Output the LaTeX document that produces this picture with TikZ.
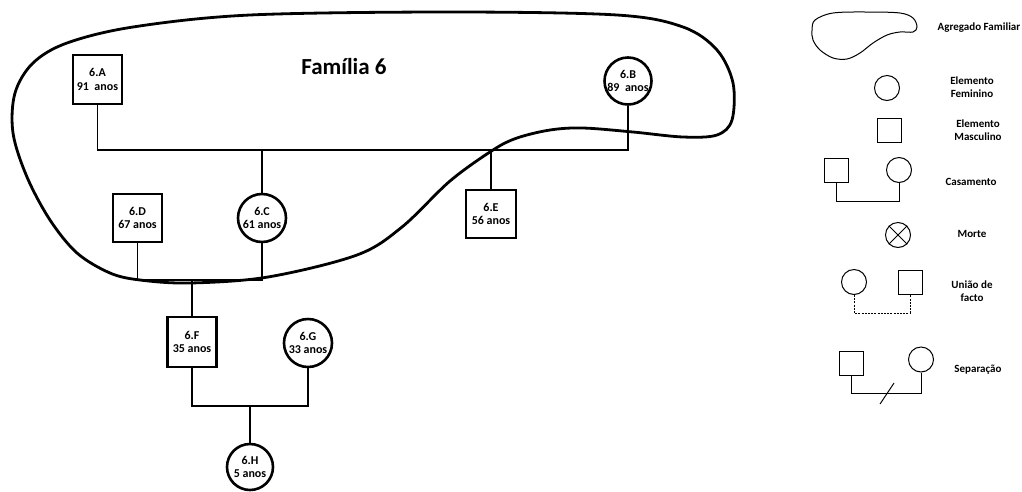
\documentclass[tikz,border=0pt]{standalone}
\usepackage{fontspec}
\setmainfont{Carlito}
\begin{document}
\begin{tikzpicture}[x=1pt,y=-1pt,
  nodetext/.style={font=\fontsize{12}{13.5}\selectfont\bfseries, align=center, inner sep=0pt},
  male/.style={nodetext, draw, line width=2.6pt, minimum width=49pt, minimum height=49pt},
  female/.style={nodetext, draw, circle, line width=2.6pt, minimum size=48pt},
  conn/.style={line width=1.3pt},
  blob/.style={line width=2.8pt},
  legtext/.style={font=\fontsize{11}{13.5}\selectfont\bfseries, align=center, inner sep=0pt},
  lmale/.style={draw, line width=1pt, minimum size=24pt, inner sep=0pt},
  lfemale/.style={draw, circle, line width=1pt, minimum size=25pt, inner sep=0pt},
  lline/.style={line width=1pt}
]
\useasboundingbox (0,0) rectangle (1022,491);

% family blob
\draw[blob] plot[smooth cycle, tension=0.55] coordinates {
 (250,15) (450,12) (617,15) (683,27) (717,50) (733,83) (732,120) (717,135)
 (683,137) (633,132) (583,128) (550,130) (517,138) (493,150) (450,181)
 (402,227) (357,255) (268,277) (190,283) (140,280) (110,273) (77,253)
 (50,220) (27,177) (13,133) (15,93) (33,63) (67,43) (133,27)};

\node[font=\fontsize{23}{26}\selectfont\bfseries] (title) at (344,67) {Família 6};

% persons
\node[male] (A) at (97.5,79.5) {6.A\\91\ \ anos};
\node[female, minimum size=47pt] (B) at (628,81) {6.B\\89\ \ anos};
\node[female] (C) at (262,218) {6.C\\61 anos};
\node[male, minimum height=48pt] (D) at (137.5,218) {6.D\\67 anos};
\node[male, minimum width=50pt, minimum height=48pt] (E) at (491,214) {6.E\\56 anos};
\node[male, minimum height=50pt] (F) at (192,342) {6.F\\35 anos};
\node[female] (G) at (308,343) {6.G\\33 anos};
\node[female, minimum size=46pt] (H) at (250,467) {6.H\\5 anos};

% connectors
\coordinate (abC) at (262,150);
\coordinate (abE) at (491,150);
\coordinate (dc) at (192,280);
\coordinate (fg) at (250,406);
\draw[conn] (A.south) -- (A.south |- abC) -| (B.south);
\draw[conn] (abC) -- (C.north);
\draw[conn] (abE) -- (E.north);
\draw[conn] (D.south) -- (D.south |- dc) -| (C.south);
\draw[conn] (dc) -- (F.north);
\draw[conn] (F.south) -- (F.south |- fg) -| (G.south);
\draw[conn] (fg) -- (H.north);

% legend
\draw[lline] plot[smooth cycle, tension=0.55] coordinates {
 (833,13) (867,12) (900,13) (913,18) (917,27) (913,32) (900,32) (887,35)
 (873,43) (860,53) (847,59) (833,58) (820,50) (813,40) (812,30) (815,20)};
\node[legtext] (lt1) at (979,28) {Agregado Familiar};

\node[lfemale] (lf) at (887,88) {};
\node[legtext] (lt2) at (972,87) {Elemento\\Feminino};

\node[lmale] (lm) at (889,130) {};
\node[legtext] (lt3) at (978,130) {Elemento\\Masculino};

\node[lmale] (cm) at (836,170.5) {};
\node[lfemale] (cf) at (899,170) {};
\coordinate (cy) at (0,201);
\draw[lline] (cm.south) -- (cm.south |- cy) -| (cf.south);
\node[legtext] (lt4) at (971,182) {Casamento};

\node[lfemale] (mo) at (898,235) {};
\draw[lline] (mo.north west) -- (mo.south east);
\draw[lline] (mo.north east) -- (mo.south west);
\node[legtext] (lt5) at (972,234) {Morte};

\node[lfemale] (uf) at (854,282) {};
\node[lmale] (um) at (910,282) {};
\coordinate (uy) at (0,313);
\draw[lline, dash pattern=on 2pt off 1.2pt] (uf.south) -- (uf.south |- uy) -| (um.south);
\node[legtext] (lt6) at (972,291) {União de\\facto};

\node[lmale] (sm) at (851,363) {};
\node[lfemale] (sf) at (921,359.5) {};
\coordinate (sy) at (0,393);
\draw[lline] (sm.south) -- (sm.south |- sy) -| (sf.south);
\coordinate (s1) at (880,404);
\coordinate (s2) at (894,383);
\draw[lline] (s1) -- (s2);
\node[legtext] (lt7) at (978,370) {Separação};
\end{tikzpicture}
\end{document}
